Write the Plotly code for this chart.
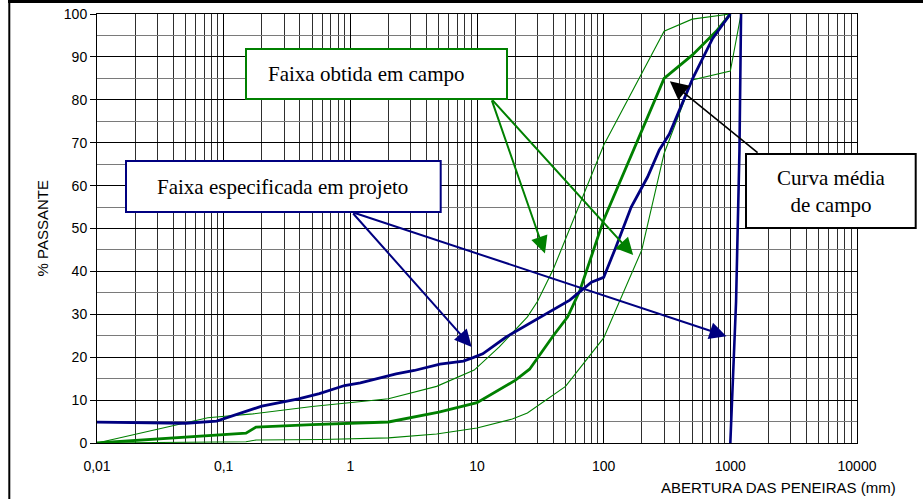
import math
import plotly.graph_objects as go

# ---- Grain-size curves: sieve opening (mm) vs. percent passing ----
# Project envelope ("Faixa especificada em projeto")
proj_lower_mm = [0.01, 0.033, 0.05, 0.088, 0.15, 0.2, 0.39, 0.57, 0.9, 1.2, 2.3, 3.2,
                 5.1, 7.8, 9.3, 11.1, 17, 24.5, 37.5, 54, 80, 100, 125, 165, 222, 275,
                 330, 420, 505, 725, 1000]
proj_lower_pct = [4.85, 4.7, 4.6, 5.1, 7.35, 8.6, 10.3, 11.5, 13.4, 14.0, 16.1, 16.9,
                  18.4, 19.1, 19.9, 20.8, 24.7, 27.4, 30.5, 33.3, 37.5, 38.6, 45.7, 55.0,
                  62.0, 68.3, 72.0, 79.5, 85.0, 94.3, 100]
proj_upper_mm = [1000, 1110, 1180, 1215]
proj_upper_pct = [0, 33, 68, 100]

# Field envelope ("Faixa obtida em campo")
field_upper_mm = [0.01, 0.075, 0.17, 0.5, 2, 4.8, 9.5, 15, 25, 30, 40, 100, 300, 500, 1000]
field_upper_pct = [0, 5.9, 6.8, 8.5, 10.3, 13.2, 17.0, 22.4, 29.4, 33, 40.5, 69.4, 96, 98.8, 100]
field_lower_mm = [0.01, 0.15, 0.18, 0.6, 2, 4.8, 10, 19, 25, 50, 100, 200, 300, 500, 1000, 1215]
field_lower_pct = [0, 0.3, 0.7, 0.8, 1.2, 2.1, 3.5, 5.6, 7.0, 13.2, 24.5, 45, 67.5, 84.6, 86.7, 100]

# Field mean curve ("Curva média de campo")
field_mean_mm = [0.01, 0.15, 0.18, 0.5, 2, 5, 10, 20, 26, 40, 52, 65, 100, 300, 500, 770, 1000]
field_mean_pct = [0, 2.3, 3.7, 4.3, 4.9, 7.2, 9.4, 14.6, 17.2, 25, 29.4, 35.6, 52, 85, 90.4, 95.9, 100]

# Axis ticks
x_tickvals = [0.01, 0.1, 1, 10, 100, 1000, 10000]
x_ticktext = ["0,01", "0,1", "1", "10", "100", "1000", "10000"]
y_tickvals = list(range(0, 101, 10))

# Callout arrows: (tail mm, tail %, head mm, head %)
green_arrows = [(12.97, 80.2, 34.4, 44.2), (12.97, 80.2, 171, 43.8)]
navy_arrows = [(1.027, 53.85, 9.08, 22.4), (1.027, 53.85, 932, 24.9)]
black_arrows = [(1686, 67.4, 333, 84.3)]

GREEN = "#008000"
NAVY = "#000080"

W, H = 923, 499
ML, MR, MT, MB = 97, 66, 14, 56
PW, PH = W - ML - MR, H - MT - MB


def px_x(p):
    return (p - ML) / PW


def px_y(p):
    return (H - MB - p) / PH


fig = go.Figure()

fig.add_trace(go.Scatter(x=field_upper_mm, y=field_upper_pct, mode="lines",
                         line=dict(color=GREEN, width=1.1), hoverinfo="skip"))
fig.add_trace(go.Scatter(x=field_lower_mm, y=field_lower_pct, mode="lines",
                         line=dict(color=GREEN, width=1.1), hoverinfo="skip"))
fig.add_trace(go.Scatter(x=field_mean_mm, y=field_mean_pct, mode="lines",
                         line=dict(color=GREEN, width=2.8), hoverinfo="skip"))
fig.add_trace(go.Scatter(x=proj_lower_mm, y=proj_lower_pct, mode="lines",
                         line=dict(color=NAVY, width=2.8), hoverinfo="skip"))
fig.add_trace(go.Scatter(x=proj_upper_mm, y=proj_upper_pct, mode="lines",
                         line=dict(color=NAVY, width=2.6), hoverinfo="skip"))

minor_x = [m * 10 ** e for e in range(-2, 4) for m in range(2, 10)]

tick_font = dict(family="Liberation Sans, Arial, sans-serif", size=14, color="black")

fig.update_xaxes(
    type="log", range=[-2, 4],
    tickmode="array", tickvals=x_tickvals, ticktext=x_ticktext,
    showgrid=True, gridcolor="black", gridwidth=1,
    minor=dict(tickmode="array", tickvals=minor_x, showgrid=True,
               gridcolor="#2e2e2e", gridwidth=1, ticks=""),
    showline=True, linecolor="black", linewidth=1, mirror=True,
    ticks="", tickfont=tick_font, ticklabelstandoff=10, zeroline=False,
)
fig.update_yaxes(
    range=[0, 100], tickmode="array", tickvals=y_tickvals,
    showgrid=True, gridcolor="black", gridwidth=1,
    minor=dict(dtick=5, showgrid=True, gridcolor="#7a7a7a", gridwidth=1, ticks=""),
    showline=True, linecolor="black", linewidth=1, mirror=True,
    ticks="outside", ticklen=6, tickcolor="black", tickfont=tick_font, zeroline=False,
)

shapes = []
annotations = []

# Text boxes
boxes = [
    dict(x0=246, x1=507, y0=49, y1=99, color=GREEN,
         text="Faixa obtida em campo", cx=366.5, cy=74),
    dict(x0=126, x1=440.7, y0=161, y1=212, color=NAVY,
         text="Faixa especificada em projeto", cx=282.5, cy=186.5),
    dict(x0=746, x1=915.7, y0=154, y1=228, color="black",
         text="Curva média<br>de campo", cx=831, cy=191),
]
serif = dict(family="Liberation Serif, Times New Roman, serif", size=21, color="black")
for b in boxes:
    shapes.append(dict(type="rect", xref="paper", yref="paper", layer="above",
                       x0=px_x(b["x0"]), x1=px_x(b["x1"]),
                       y0=px_y(b["y1"]), y1=px_y(b["y0"]),
                       fillcolor="white", line=dict(color=b["color"], width=2)))
    annotations.append(dict(xref="paper", yref="paper", x=px_x(b["cx"]), y=px_y(b["cy"]),
                            xanchor="center", yanchor="middle", showarrow=False,
                            text=b["text"], font=serif, align="center"))

# Arrows with filled triangular heads
for arrows, color, width, size in ((green_arrows, GREEN, 2, 1.7), (navy_arrows, NAVY, 2, 1.7),
                                   (black_arrows, "black", 1.6, 2.3)):
    for tx, ty, hx, hy in arrows:
        annotations.append(dict(
            xref="x", yref="y", axref="x", ayref="y",
            x=math.log10(hx), y=hy, ax=math.log10(tx), ay=ty,
            text="", showarrow=True, arrowhead=2, arrowsize=size,
            arrowwidth=width, arrowcolor=color, standoff=0, startstandoff=0,
        ))

# Axis titles
title_font = dict(family="Liberation Sans, Arial, sans-serif", size=15, color="black")
annotations.append(dict(xref="paper", yref="paper", x=px_x(42), y=0.5, textangle=-90,
                        text="% PASSANTE", showarrow=False, font=title_font,
                        xanchor="center", yanchor="middle"))
annotations.append(dict(xref="paper", yref="paper", x=px_x(898), y=px_y(487),
                        text="ABERTURA DAS PENEIRAS (mm)", showarrow=False, font=title_font,
                        xanchor="right", yanchor="middle"))

# Outer frame (top and left edges)
shapes.append(dict(type="line", xref="paper", yref="paper", layer="above",
                   x0=px_x(8), x1=px_x(930), y0=px_y(1.5), y1=px_y(1.5),
                   line=dict(color="black", width=3)))
shapes.append(dict(type="line", xref="paper", yref="paper", layer="above",
                   x0=px_x(9.3), x1=px_x(9.3), y0=px_y(0), y1=px_y(505),
                   line=dict(color="black", width=2)))

fig.update_layout(
    width=W, height=H,
    margin=dict(l=ML, r=MR, t=MT, b=MB, autoexpand=False),
    paper_bgcolor="white", plot_bgcolor="white",
    showlegend=False,
    shapes=shapes, annotations=annotations,
)

fig.write_html("out.html", config={"displayModeBar": False})
